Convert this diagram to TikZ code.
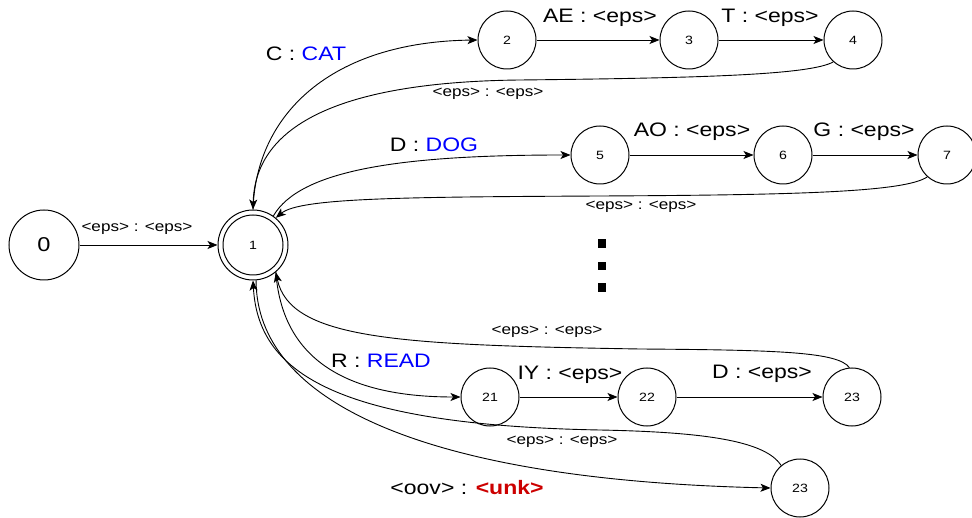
\documentclass[tikz,border=0pt]{standalone}
\usepackage{fontspec}
\setmainfont{Liberation Sans}
\newfontfamily\lblfont[FakeStretch=1.18]{Liberation Sans}
\usetikzlibrary{arrows.meta}
\definecolor{wblue}{RGB}{0,0,255}
\definecolor{wred}{RGB}{204,0,0}
\begin{document}
\begin{tikzpicture}[x=1pt,y=-1pt,
  st/.style={circle,draw,line width=1pt,minimum size=58pt,inner sep=0pt,font=\lblfont\fontsize{12}{14}\selectfont},
  big/.style={font=\lblfont\fontsize{19.5}{22}\selectfont,inner sep=0pt,anchor=base},
  small/.style={font=\lblfont\fontsize{14.5}{17}\selectfont,inner sep=0pt,anchor=base},
  edge/.style={line width=0.9pt,-{Stealth[length=10pt,width=8pt,inset=2.5pt]}},
  dotsq/.style={fill=black,minimum size=8.5pt,inner sep=0pt}]
\useasboundingbox (0,0) rectangle (972,518);
% states
\node[st,minimum size=70pt,font=\lblfont\fontsize{20}{22}\selectfont] (n0) at (44,245) {0};
\node[st,minimum size=70pt] (n1) at (253,245) {1};
\node[circle,draw,line width=1pt,minimum size=60pt,inner sep=0pt] (n1in) at (n1) {};
\node[st] (n2) at (507,40) {2};
\node[st] (n3) at (689,40) {3};
\node[st] (n4) at (853,40) {4};
\node[st] (n5) at (600,155) {5};
\node[st] (n6) at (783,155) {6};
\node[st] (n7) at (947,155) {7};
\node[st] (n21) at (490,397) {21};
\node[st] (n22) at (647,397) {22};
\node[st] (n23) at (852,397) {23};
\node[st] (n23b) at (800,488) {23};
% dots
\node[dotsq] (d1) at (602,243.5) {};
\node[dotsq] (d2) at (602,266) {};
\node[dotsq] (d3) at (602,287.5) {};
% edges
\draw[edge] (n0) -- (n1);
\draw[edge] (n2) -- (n3);
\draw[edge] (n3) -- (n4);
\draw[edge] (n5) -- (n6);
\draw[edge] (n6) -- (n7);
\draw[edge] (n21) -- (n22);
\draw[edge] (n22) -- (n23);
\draw[edge] (n1.north) .. controls (256,115) and (330,42) .. (n2.west);
\draw[edge] (n4.228) .. controls (810,75) and (700,78) .. (520,80) .. controls (330,82) and (255,130) .. (n1.north);
\draw[edge] (n1.55) .. controls (300,170) and (400,155) .. (n5.west);
\draw[edge] (n7.228) .. controls (905,192) and (800,195) .. (600,196) .. controls (400,197) and (300,198) .. (n1.50);
\draw[edge] (n1.-50) .. controls (282,355) and (340,397) .. (n21.west);
\draw[edge] (n23.95) .. controls (838,352) and (780,350) .. (640,349) .. controls (400,345) and (290,340) .. (n1.-50);
\draw[edge] (n1.-85) .. controls (256,400) and (420,480) .. (n23b.west);
\draw[edge] (n23b.130) .. controls (765,440) and (700,432) .. (600,430) .. controls (330,425) and (258,370) .. (n1.south);
% labels
\node[small] (l01) at (137,232) {<eps> : <eps>};
\node[big] (l12) at (306,61) {C : \textcolor{wblue}{CAT}};
\node[big] (l23) at (600,23) {AE : <eps>};
\node[big] (l34) at (770,23) {T : <eps>};
\node[small] (l41) at (488,97) {<eps> : <eps>};
\node[big] (l15) at (434,152) {D : \textcolor{wblue}{DOG}};
\node[big] (l56) at (692,137) {AO : <eps>};
\node[big] (l67) at (864,137) {G : <eps>};
\node[small] (l71) at (641,210) {<eps> : <eps>};
\node[small] (l231) at (547,335) {<eps> : <eps>};
\node[big] (l121) at (381,368) {R : \textcolor{wblue}{READ}};
\node[big] (l2122) at (570,380) {IY : <eps>};
\node[big] (l2223) at (762,379) {D : <eps>};
\node[small] (l23b1) at (562,445) {<eps> : <eps>};
\node[big] (l123b) at (467,494) {<oov> : \textcolor{wred}{\bfseries <unk>}};
\end{tikzpicture}
\end{document}
